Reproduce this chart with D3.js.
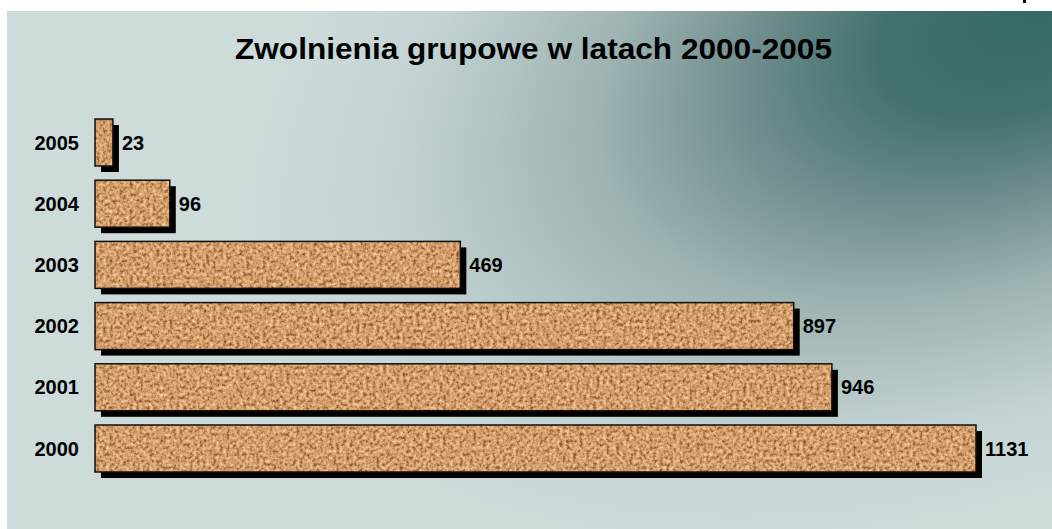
<!DOCTYPE html>
<html>
<head>
<meta charset="utf-8">
<script src="https://cdn.jsdelivr.net/npm/d3@7"></script>
<style>
  body { margin: 0; background: #fff; }
  text { font-family: Arial, 'Liberation Sans', sans-serif; font-weight: bold; fill: #000; }
</style>
</head>
<body>
<div id="chart-1"></div>
<script>
let years = ['2005', '2004', '2003', '2002', '2001', '2000']
let values = [23, 96, 469, 897, 946, 1131]
let title = 'Zwolnienia grupowe w latach 2000-2005'

let width = 1052
let height = 529
let panel = { x: 7, y: 11 }

let svg = d3
  .select('#chart-1')
  .append('svg')
  .attr('width', width)
  .attr('height', height)

let defs = svg.append('defs')

// background glow, dark in the top right corner
let grad = defs
  .append('radialGradient')
  .attr('id', 'bg')
  .attr('gradientUnits', 'userSpaceOnUse')
  .attr('cx', 1040)
  .attr('cy', 10)
  .attr('r', 850)
  .attr('gradientTransform', 'translate(1040,10) rotate(-22) scale(1,0.55) translate(-1040,-10)')

grad.append('stop').attr('offset', 0).attr('stop-color', '#356866')
grad.append('stop').attr('offset', 0.2).attr('stop-color', '#43716f')
grad.append('stop').attr('offset', 0.35).attr('stop-color', '#6c8b8a')
grad.append('stop').attr('offset', 0.55).attr('stop-color', '#9fb3b3')
grad.append('stop').attr('offset', 0.8).attr('stop-color', '#c3d3d3')
grad.append('stop').attr('offset', 1).attr('stop-color', '#cddbdb')

// cork texture for the bars
let cork = defs
  .append('filter')
  .attr('id', 'cork')
  .attr('x', 0)
  .attr('y', 0)
  .attr('width', 1)
  .attr('height', 1)
  .attr('color-interpolation-filters', 'sRGB')

cork
  .append('feTurbulence')
  .attr('type', 'fractalNoise')
  .attr('baseFrequency', 0.3)
  .attr('numOctaves', 3)
  .attr('seed', 4)
  .attr('result', 'noise')

cork
  .append('feColorMatrix')
  .attr('in', 'noise')
  .attr('type', 'matrix')
  .attr('values', '1 0 0 0 0  1 0 0 0 0  1 0 0 0 0  0 0 0 0 1')
  .attr('result', 'gray')

let ct = cork.append('feComponentTransfer').attr('in', 'gray').attr('result', 'tex')
ct.append('feFuncR').attr('type', 'table').attr('tableValues', '0.42 0.48 0.56 0.66 0.76 0.83 0.88 0.92 0.95 0.98 1')
ct.append('feFuncG').attr('type', 'table').attr('tableValues', '0.24 0.28 0.35 0.44 0.54 0.62 0.68 0.74 0.8 0.86 0.9')
ct.append('feFuncB').attr('type', 'table').attr('tableValues', '0.1 0.13 0.18 0.26 0.34 0.42 0.48 0.55 0.62 0.68 0.74')

cork
  .append('feComposite')
  .attr('in', 'tex')
  .attr('in2', 'SourceGraphic')
  .attr('operator', 'in')

svg
  .append('rect')
  .attr('x', panel.x)
  .attr('y', panel.y)
  .attr('width', width - panel.x)
  .attr('height', height - panel.y)
  .attr('fill', 'url(#bg)')

// small mark at the top edge
svg
  .append('rect')
  .attr('x', 1023)
  .attr('y', 0)
  .attr('width', 3)
  .attr('height', 3)
  .attr('fill', '#000')

svg
  .append('text')
  .attr('x', 533.5)
  .attr('y', 59)
  .attr('text-anchor', 'middle')
  .attr('textLength', 597)
  .attr('lengthAdjust', 'spacingAndGlyphs')
  .style('font-size', '29px')
  .text(title)

let x = d3.scaleLinear().domain([0, 1200]).range([95, 95 + 1200 * (881 / 1131)])

let y = d3
  .scaleBand()
  .domain(years)
  .range([119, 472])
  .paddingInner(0.232)
  .paddingOuter(0)

let rows = years.map((yr, i) => ({ year: yr, value: values[i] }))

let shadow = 6

svg
  .selectAll('.shadow')
  .data(rows)
  .enter()
  .append('rect')
  .attr('class', 'shadow')
  .attr('x', x(0) + shadow)
  .attr('y', d => y(d.year) + shadow)
  .attr('width', d => x(d.value) - x(0))
  .attr('height', y.bandwidth())
  .attr('fill', '#000')

svg
  .selectAll('.bar')
  .data(rows)
  .enter()
  .append('rect')
  .attr('class', 'bar')
  .attr('x', x(0))
  .attr('y', d => y(d.year))
  .attr('width', d => x(d.value) - x(0))
  .attr('height', y.bandwidth())
  .attr('fill', '#c9976a')
  .attr('filter', 'url(#cork)')

svg
  .selectAll('.outline')
  .data(rows)
  .enter()
  .append('rect')
  .attr('class', 'outline')
  .attr('x', x(0))
  .attr('y', d => y(d.year))
  .attr('width', d => x(d.value) - x(0))
  .attr('height', y.bandwidth())
  .attr('fill', 'none')
  .attr('stroke', '#111')
  .attr('stroke-width', 1.5)

svg
  .selectAll('.year')
  .data(rows)
  .enter()
  .append('text')
  .attr('class', 'year')
  .attr('x', 79)
  .attr('y', d => y(d.year) + y.bandwidth() / 2)
  .attr('dy', '0.36em')
  .attr('text-anchor', 'end')
  .style('font-size', '20px')
  .text(d => d.year)

svg
  .selectAll('.value')
  .data(rows)
  .enter()
  .append('text')
  .attr('class', 'value')
  .attr('x', d => x(d.value) + shadow + 3)
  .attr('y', d => y(d.year) + y.bandwidth() / 2)
  .attr('dy', '0.36em')
  .style('font-size', '20px')
  .text(d => d.value)
</script>
</body>
</html>
